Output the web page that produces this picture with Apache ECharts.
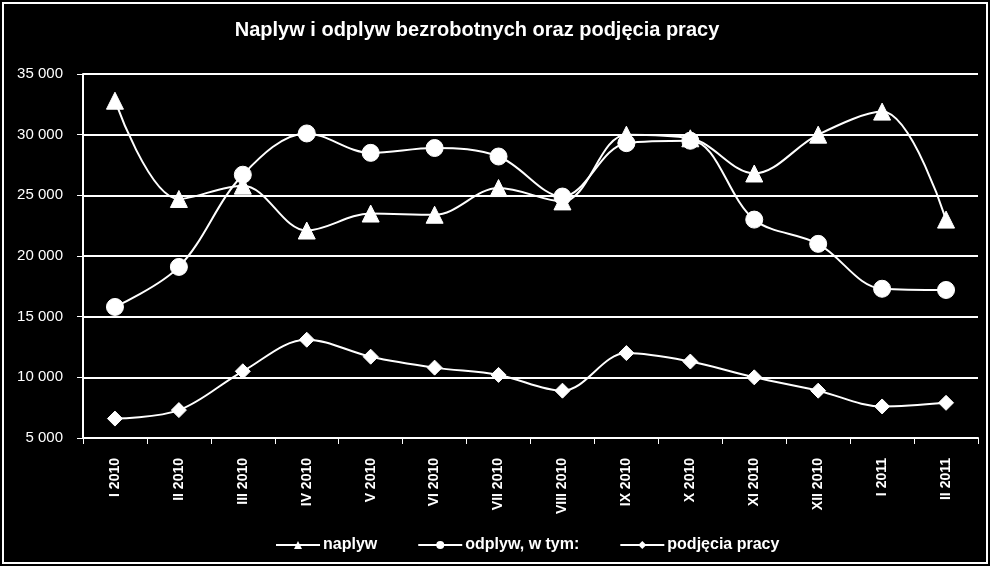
<!DOCTYPE html>
<html>
<head>
<meta charset="utf-8">
<script src="https://cdn.jsdelivr.net/npm/echarts@6/dist/echarts.min.js"></script>
<style>
html,body{margin:0;padding:0;background:#000;}
#wrap{position:absolute;left:0;top:0;width:990px;height:566px;background:#000;}
#frame{position:absolute;left:2px;top:2px;width:986px;height:562px;border:2px solid #fff;box-sizing:border-box;}
#chart{position:absolute;left:0;top:0;width:990px;height:566px;}
</style>
</head>
<body>
<div id="wrap"><div id="frame"></div><div id="chart"></div></div>
<script>
const categories = ['I 2010','II 2010','III 2010','IV 2010','V 2010','VI 2010','VII 2010','VIII 2010','IX 2010','X 2010','XI 2010','XII 2010','I 2011','II 2011'];
const naplyw = [32800, 24700, 25800, 22100, 23500, 23400, 25600, 24500, 30000, 29700, 26800, 30000, 31900, 23000];
const odplyw = [15800, 19100, 26700, 30100, 28500, 28900, 28200, 24900, 29300, 29500, 23000, 21000, 17300, 17200];
const podjecia = [6600, 7300, 10500, 13100, 11700, 10800, 10200, 8900, 12000, 11300, 10000, 8900, 7600, 7900];
const seriesNames = ['naplyw', 'odplyw, w tym:', 'podjęcia pracy'];

const chart = echarts.init(document.getElementById('chart'), null, {renderer:'canvas'});
const fmt = v => String(v).replace(/\B(?=(\d{3})+(?!\d))/g, ' ');
const mk = (name, data, symbol, size) => ({
  name, type:'line', data, smooth:0.35, symbol, symbolSize:size,
  lineStyle:{color:'#fff', width:2},
  itemStyle:{color:'#fff', borderColor:'#fff'},
  emphasis:{disabled:true}, z: 3
});
chart.setOption({
  backgroundColor:'transparent',
  animation:false,
  title:{
    text:'Naplyw i odplyw bezrobotnych oraz podjęcia pracy',
    left:472, top:15, textAlign:'center',
    textStyle:{color:'#fff', fontFamily:'Liberation Sans, Arial, sans-serif', fontWeight:'bold', fontSize:20}
  },
  legend:{
    bottom:8, left:270, itemWidth:44, itemHeight:10, itemGap:40,
    textStyle:{color:'#fff', fontFamily:'Liberation Sans, Arial, sans-serif', fontSize:16, fontWeight:'bold', padding:[0,0,0,-2]},
    data:seriesNames.slice()
  },
  grid:{left:83, right:12, top:74, bottom:128},
  xAxis:{
    type:'category', data:categories, boundaryGap:true,
    axisLine:{lineStyle:{color:'#fff', width:2}},
    axisTick:{show:true, length:6, lineStyle:{color:'#fff', width:1}},
    axisLabel:{rotate:90, margin:20, color:'#fff', fontFamily:'Liberation Sans, Arial, sans-serif', fontWeight:'bold', fontSize:14, interval:0}
  },
  yAxis:{
    type:'value', min:5000, max:35000, interval:5000,
    axisLine:{show:true, lineStyle:{color:'#fff', width:2}},
    axisTick:{show:true, length:6, lineStyle:{color:'#fff'}},
    splitLine:{lineStyle:{color:'#fff', width:2}},
    axisLabel:{color:'#fff', fontFamily:'Liberation Sans, Arial, sans-serif', fontSize:15, margin:20, formatter:fmt}
  },
  series:[
    mk(seriesNames[0], naplyw, 'triangle', 17),
    mk(seriesNames[1], odplyw, 'circle', 17),
    mk(seriesNames[2], podjecia, 'diamond', 15)
  ]
});
</script>
</body>
</html>
